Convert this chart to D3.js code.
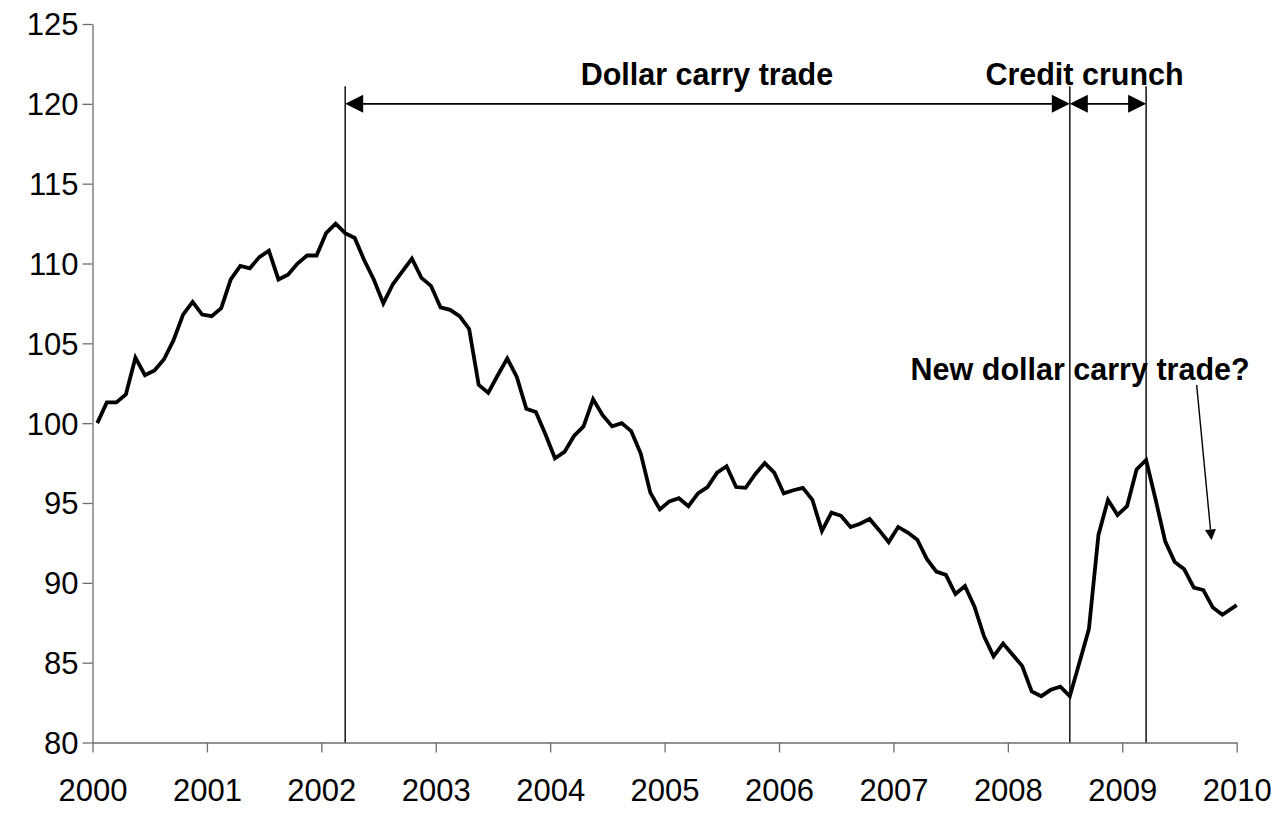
<!DOCTYPE html>
<html>
<head>
<meta charset="utf-8">
<script src="https://cdn.jsdelivr.net/npm/d3@7"></script>
<style>
  html, body { margin: 0; padding: 0; background: #fff; }
  svg { display: block; }
  text { font-family: "Liberation Sans", Arial, sans-serif; }
</style>
</head>
<body>
<svg id="chart" width="1287" height="814"></svg>
<script>
// ---- data ----
const startYear = 2000;
const endYear = 2010;
// monthly index values, Jan 2000 .. Dec 2009 (last reading dated at the start of 2010)
const values = [
  100.0, 101.3, 101.3, 101.8, 104.1, 103.0, 103.3, 104.0, 105.2, 106.8, 107.6, 106.8,
  106.7, 107.2, 109.0, 109.85, 109.7, 110.4, 110.8, 109.0, 109.3, 110.0, 110.5, 110.5,
  111.9, 112.5, 111.9, 111.6, 110.2, 109.0, 107.5, 108.7, 109.5, 110.3, 109.1, 108.6,
  107.25, 107.1, 106.7, 105.9, 102.4, 101.9, 103.0, 104.05, 102.9, 100.9, 100.7, 99.3,
  97.8, 98.2, 99.2, 99.8, 101.5, 100.5, 99.8, 100.0, 99.5, 98.1, 95.65, 94.6,
  95.1, 95.3, 94.8, 95.6, 96.0, 96.9, 97.3, 96.0, 95.95, 96.8, 97.5, 96.9,
  95.6, 95.8, 95.95, 95.2, 93.25, 94.4, 94.2, 93.5, 93.7, 94.0, 93.3, 92.55,
  93.5, 93.15, 92.7, 91.5, 90.7, 90.5, 89.3, 89.8, 88.5, 86.65, 85.4, 86.2,
  85.5, 84.8, 83.2, 82.9, 83.3, 83.5, 82.9, 85.0, 87.1, 93.0, 95.2, 94.25,
  94.8, 97.1, 97.7, 95.2, 92.6, 91.3, 90.85, 89.7, 89.55, 88.45, 88.0, 88.6
];
const lastObsDate = 2010.0;          // decimal-year date of the final reading
const yearTicks = [2000, 2001, 2002, 2003, 2004, 2005, 2006, 2007, 2008, 2009, 2010];
const valueTicks = [80, 85, 90, 95, 100, 105, 110, 115, 120, 125];

// event markers (year, month index 0-11)
const eventDates = [[2002, 2], [2008, 6], [2009, 2]];
const periodLabels = ["Dollar carry trade", "Credit crunch"];
const periodLabelX = [2005.37, 2008.67];   // decimal years (label centres)
const noteText = "New dollar carry trade?";
const noteAnchor = [2007.15, 102.68];      // [decimal year, value]
const noteArrow = [[2009.65, 102.4], [2009.78, 92.66]];

// ---- layout ----
const svg = d3.select("#chart");
const x = d3.scaleLinear().domain([startYear, endYear]).range([92.5, 1236.7]);
const y = d3.scaleLinear().domain([80, 125]).range([742.5, 24]);

const dateOf = i => i < values.length - 1 ? startYear + (i + 0.5) / 12 : lastObsDate;
const series = values.map((v, i) => ({ t: dateOf(i), v }));
const eventT = eventDates.map(([yr, m]) => yr + (m + 0.5) / 12);

svg.append("rect").attr("width", 1287).attr("height", 814).attr("fill", "#fff");

// axes
const axisColor = "#6e6e6e";
const gx = svg.append("g").attr("transform", `translate(0,${y(80)})`)
  .call(d3.axisBottom(x).tickValues(yearTicks).tickFormat(d3.format("d"))
    .tickSize(10).tickSizeOuter(0).tickPadding(26));
const gy = svg.append("g").attr("transform", `translate(${x(startYear)},0)`)
  .call(d3.axisLeft(y).tickValues(valueTicks).tickSize(10).tickSizeOuter(0).tickPadding(4));
[gx, gy].forEach(g => {
  g.select(".domain").attr("stroke", axisColor).attr("stroke-width", 1.3);
  g.selectAll(".tick line").attr("stroke", axisColor).attr("stroke-width", 1.3);
  g.selectAll(".tick text").attr("fill", "#000")
    .style("font-family", '"Liberation Sans", Arial, sans-serif')
    .style("font-size", "31px");
});
gx.selectAll(".tick text").attr("dy", "0.71em");
gy.selectAll(".tick text").attr("dy", "0.35em");

// vertical event lines
svg.append("g").selectAll("line").data(eventT).join("line")
  .attr("x1", d => x(d)).attr("x2", d => x(d))
  .attr("y1", y(121.1)).attr("y2", y(80))
  .attr("stroke", "#000").attr("stroke-width", 1.4);

// double-headed period arrows
const arrowY = y(120);
const headL = 18, headW = 9;
const ag = svg.append("g");
for (let k = 0; k < eventT.length - 1; k++) {
  const a = x(eventT[k]), b = x(eventT[k + 1]);
  ag.append("line").attr("x1", a + headL - 1).attr("x2", b - headL + 1)
    .attr("y1", arrowY).attr("y2", arrowY).attr("stroke", "#000").attr("stroke-width", 1.6);
  ag.append("path").attr("d", `M${a},${arrowY}L${a + headL},${arrowY - headW}L${a + headL},${arrowY + headW}Z`).attr("fill", "#000");
  ag.append("path").attr("d", `M${b},${arrowY}L${b - headL},${arrowY - headW}L${b - headL},${arrowY + headW}Z`).attr("fill", "#000");
}

// period labels
svg.append("g").selectAll("text").data(periodLabels).join("text")
  .attr("x", (d, i) => x(periodLabelX[i])).attr("y", y(121.15))
  .attr("text-anchor", "middle")
  .style("font-size", "30.5px").style("font-weight", "bold")
  .text(d => d);

// data line
svg.append("path").datum(series)
  .attr("fill", "none").attr("stroke", "#000").attr("stroke-width", 3.8)
  .attr("stroke-linejoin", "miter").attr("stroke-miterlimit", 4)
  .attr("d", d3.line().x(d => x(d.t)).y(d => y(d.v)));

// note + arrow
svg.append("text").attr("x", x(noteAnchor[0])).attr("y", y(noteAnchor[1]))
  .style("font-size", "30.5px").style("font-weight", "bold").text(noteText);
const [p0, p1] = noteArrow.map(([t, v]) => [x(t), y(v)]);
const ang = Math.atan2(p1[1] - p0[1], p1[0] - p0[0]);
const hl = 11, hw = 5.5;
const bx = p1[0] - hl * Math.cos(ang), by = p1[1] - hl * Math.sin(ang);
svg.append("line").attr("x1", p0[0]).attr("y1", p0[1]).attr("x2", bx).attr("y2", by)
  .attr("stroke", "#000").attr("stroke-width", 1.4);
svg.append("path")
  .attr("d", `M${p1[0]},${p1[1]}L${bx - hw * Math.sin(ang)},${by + hw * Math.cos(ang)}L${bx + hw * Math.sin(ang)},${by - hw * Math.cos(ang)}Z`)
  .attr("fill", "#000");
</script>
</body>
</html>
